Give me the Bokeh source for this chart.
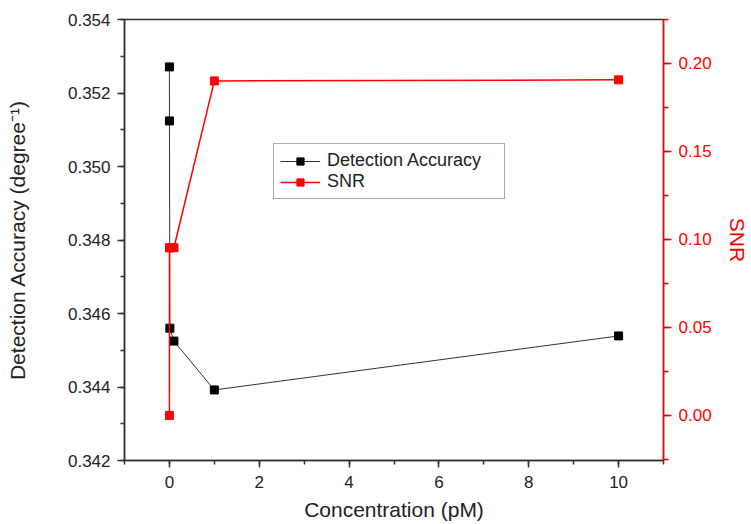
from bokeh.plotting import figure
from bokeh.models import (Range1d, LinearAxis, SingleIntervalTicker, NumeralTickFormatter,
                          Legend, LegendItem)
from bokeh.embed import file_html
from bokeh.resources import INLINE

# ---- data ----
concentration = [0.0, 0.001, 0.01, 0.1, 1.0, 10.0]
detection_accuracy = [0.35271, 0.35124, 0.34560, 0.34525, 0.34392, 0.34539]
snr = [0.0, 0.0953, 0.0953, 0.0953, 0.1901, 0.1907]

x_ticks_interval = 2
left_range = (0.342, 0.354)
right_range = (-0.0256, 0.225)
x_range = (-1, 11)

FONT = "Liberation Sans"
TXT = "#222222"

p = figure(width=751, height=524, x_range=x_range, y_range=left_range,
           output_backend="svg", toolbar_location=None,
           min_border_left=124, min_border_right=88, min_border_top=19, min_border_bottom=64)
p.xgrid.visible = False
p.ygrid.visible = False
p.outline_line_color = "#333333"
p.outline_line_width = 1.5
p.background_fill_color = "white"
p.border_fill_color = "white"

p.extra_y_ranges = {"snr": Range1d(*right_range)}

# bottom axis
xa = p.xaxis[0]
xa.ticker = SingleIntervalTicker(interval=x_ticks_interval, num_minor_ticks=2)
xa.axis_label = "Concentration (pM)"

# left axis
ya = p.yaxis[0]
ya.ticker = SingleIntervalTicker(interval=0.002, num_minor_ticks=2)
ya.formatter = NumeralTickFormatter(format="0.000")
ya.axis_label = "Detection Accuracy (degree\u207b\u00b9)"

for ax in (xa, ya):
    ax.axis_line_color = "#333333"
    ax.axis_line_width = 1.5
    ax.major_tick_line_color = "#333333"
    ax.minor_tick_line_color = "#333333"
    ax.major_tick_line_width = 1.5
    ax.minor_tick_line_width = 1.5
    ax.major_tick_in = 0
    ax.major_tick_out = 7
    ax.minor_tick_in = 0
    ax.minor_tick_out = 4
    ax.major_label_text_font = FONT
    ax.major_label_text_font_size = "17px"
    ax.major_label_text_color = TXT
    ax.axis_label_text_font = FONT
    ax.axis_label_text_font_size = "21px"
    ax.axis_label_text_font_style = "normal"
    ax.axis_label_text_color = TXT

xa.major_label_standoff = 8
xa.axis_label_standoff = 7
ya.major_label_standoff = 7
ya.axis_label_standoff = 36

# right axis (SNR)
ra = LinearAxis(y_range_name="snr",
                ticker=SingleIntervalTicker(interval=0.05, num_minor_ticks=2),
                formatter=NumeralTickFormatter(format="0.00"),
                axis_label="SNR")
ra.axis_line_color = "red"
ra.axis_line_width = 1.5
ra.major_tick_line_color = "red"
ra.minor_tick_line_color = "red"
ra.major_tick_line_width = 1.5
ra.minor_tick_line_width = 1.5
ra.major_tick_in = 0
ra.major_tick_out = 8
ra.minor_tick_in = 0
ra.minor_tick_out = 5
ra.major_label_standoff = 7
ra.major_label_text_font = FONT
ra.major_label_text_font_size = "17px"
ra.major_label_text_color = "red"
ra.axis_label_text_font = FONT
ra.axis_label_text_font_size = "21px"
ra.axis_label_text_font_style = "normal"
ra.axis_label_text_color = "red"
ra.axis_label_standoff = 11
p.add_layout(ra, "right")

# series
l1 = p.line(concentration, detection_accuracy, line_color="#333333", line_width=1)
s1 = p.scatter(concentration, detection_accuracy, marker="square", size=8,
               fill_color="black", line_color="black")
l2 = p.line(concentration, snr, line_color="red", line_width=1.5, y_range_name="snr")
s2 = p.scatter(concentration, snr, marker="square", size=8,
               fill_color="red", line_color="red", y_range_name="snr")

legend = Legend(items=[LegendItem(label="Detection Accuracy", renderers=[l1, s1]),
                       LegendItem(label="SNR", renderers=[l2, s2])],
                location=(149, 261))
legend.label_text_font = FONT
legend.label_text_font_size = "18px"
legend.label_text_color = TXT
legend.glyph_width = 40
legend.glyph_height = 18
legend.label_height = 18
legend.label_width = 171
legend.label_standoff = 7
legend.spacing = 0
legend.padding = 6
legend.margin = 0
legend.border_line_color = "#555555"
legend.border_line_width = 1
legend.background_fill_alpha = 1
p.add_layout(legend, "center")

open("out.html", "w").write(file_html(p, INLINE))
